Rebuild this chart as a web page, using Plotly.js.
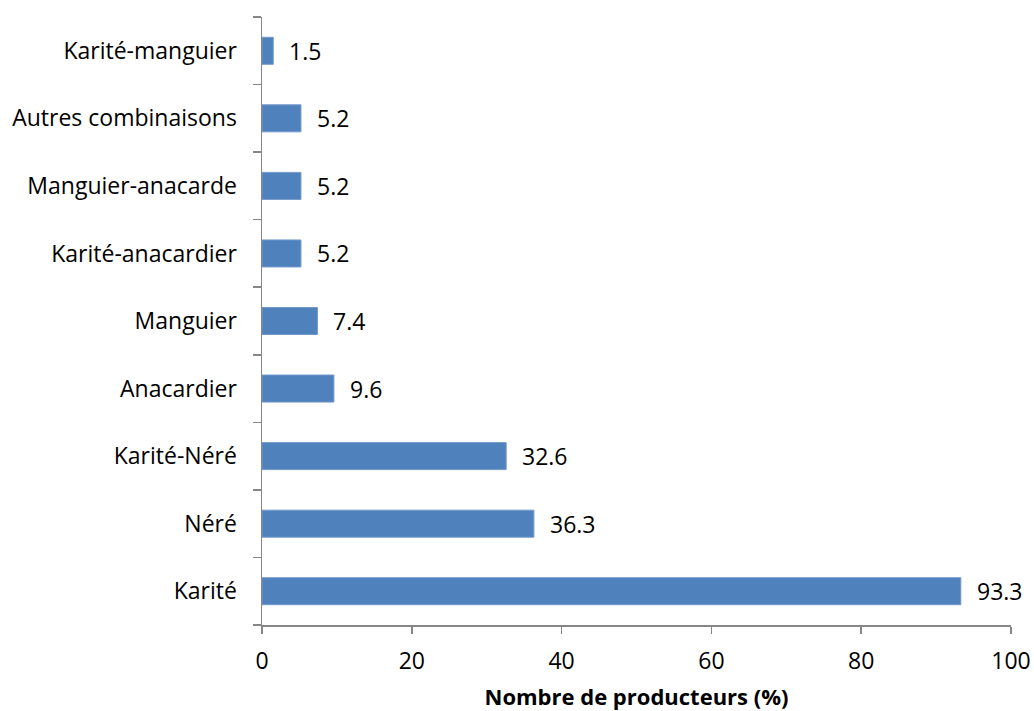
<!DOCTYPE html>
<html>
<head>
<meta charset="utf-8">
<script src="https://cdn.plot.ly/plotly-3.0.1.min.js"></script>
<style>
  html, body { margin: 0; padding: 0; background: #fff; }
  #chart { width: 1034px; height: 711px; }
</style>
</head>
<body>
<div id="chart"></div>
<script>
// Combinaisons d'espèces exploitées, de bas en haut
const categories = [
  "Karité", "Néré", "Karité-Néré", "Anacardier", "Manguier",
  "Karité-anacardier", "Manguier-anacarde", "Autres combinaisons", "Karité-manguier"
];
const producteurs = [93.3, 36.3, 32.6, 9.6, 7.4, 5.2, 5.2, 5.2, 1.5];
const xTicks = [0, 20, 40, 60, 80, 100];

const font = "'Open Sans', 'Noto Sans', sans-serif";
const labelSize = 23;

const trace = {
  type: "bar",
  orientation: "h",
  x: producteurs,
  y: categories,
  marker: { color: "#4F81BD", line: { color: "#7399cb", width: 1 } },
  hoverinfo: "x+y"
};

// Étiquettes de valeur à droite de chaque barre
const annotations = producteurs.map((v, i) => ({
  x: v, y: categories[i], xref: "x", yref: "y",
  text: v.toFixed(1), showarrow: false,
  xanchor: "left", yanchor: "middle", xshift: 14,
  font: { family: font, size: labelSize, color: "#000" }
}));

const layout = {
  width: 1034, height: 711,
  margin: { l: 262, r: 23, t: 17, b: 86 },
  paper_bgcolor: "#fff", plot_bgcolor: "#fff",
  showlegend: false,
  bargap: 0.6,
  font: { family: font, size: labelSize, color: "#000" },
  xaxis: {
    range: [0, 100],
    tickvals: xTicks,
    ticktext: xTicks.map(String),
    showgrid: false, zeroline: false,
    showline: true, linecolor: "#868686", linewidth: 1.5,
    ticks: "outside", ticklen: 7, tickwidth: 1.5, tickcolor: "#868686",
    tickfont: { family: font, size: labelSize, color: "#000" },
    ticklabelstandoff: 8,
    title: { text: "<b>Nombre de producteurs (%)</b>", font: { family: font, size: 22, color: "#000" }, standoff: 16 },
    fixedrange: true
  },
  yaxis: {
    type: "category",
    categoryorder: "array", categoryarray: categories,
    showgrid: false, zeroline: false,
    showline: true, linecolor: "#868686", linewidth: 1.5,
    ticks: "outside", ticklen: 8, tickwidth: 1.5, tickcolor: "#868686",
    tickson: "boundaries",
    tickfont: { family: font, size: labelSize, color: "#000" },
    ticklabelstandoff: 19,
    fixedrange: true
  },
  annotations: annotations
};

Plotly.newPlot("chart", [trace], layout, { displayModeBar: false, staticPlot: true });
</script>
</body>
</html>
